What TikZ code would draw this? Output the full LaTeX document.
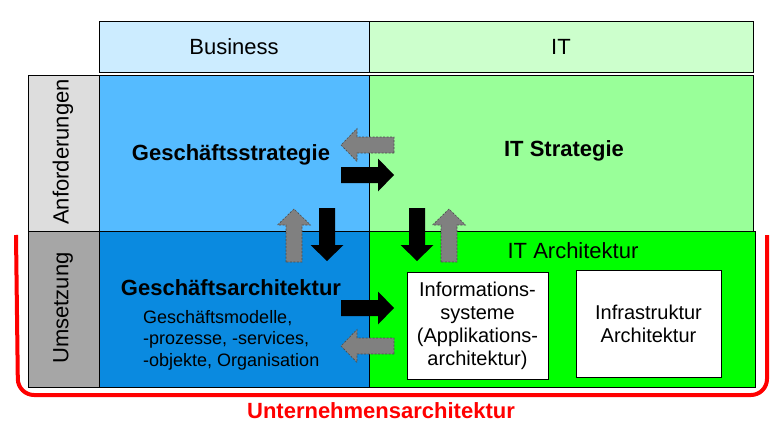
\documentclass[tikz,border=0pt]{standalone}
\usepackage{fontspec}
\setmainfont{Liberation Sans}

\definecolor{bizhead}{HTML}{CCECFF}
\definecolor{ithead}{HTML}{CCFFCC}
\definecolor{bizstrat}{HTML}{55BBFF}
\definecolor{bizarch}{HTML}{0A8AE0}
\definecolor{itstrat}{HTML}{99FF99}
\definecolor{itarch}{HTML}{00FF00}
\definecolor{reqgray}{HTML}{DDDDDD}
\definecolor{implgray}{HTML}{A6A6A6}
\definecolor{arrgray}{HTML}{808080}
\definecolor{bracketred}{HTML}{FF0000}

\newcommand{\cellfont}{\fontsize{22}{26}\selectfont}
\newcommand{\boxfont}{\fontsize{20}{23}\selectfont}
\newcommand{\notefont}{\fontsize{18}{21.5}\selectfont}
% block arrow: style, tail point, direction
\newcommand{\blockarrow}[3]{\path[#1,shift={(#2)},rotate=#3] (0,-8) -- (37,-8) -- (37,-16.5) -- (53,0) -- (37,16.5) -- (37,8) -- (0,8) -- cycle;}

\begin{document}
\begin{tikzpicture}[x=1pt,y=-1pt,
  cell/.style={draw=black,line width=1pt,inner sep=0pt,outer sep=0pt},
  whitebox/.style={cell,fill=white,align=center,font=\boxfont},
  fwd/.style={fill=black},
  back/.style={fill=arrgray,draw=black!70,line width=0.6pt,dash pattern=on 2pt off 1.5pt}]
\useasboundingbox (0,0) rectangle (782,431);

% enterprise bracket
\draw[bracketred,line width=4pt,rounded corners=16pt] (16,235) -- (18,395) -- (767,395) -- (767,235);
\node[text=bracketred,font=\cellfont\bfseries] (ua) at (381,411) {Unternehmensarchitektur};

% header
\node[cell,fill=bizhead,minimum width=270pt,minimum height=51pt,font=\cellfont] (business) at (234,46.5) {Business};
\node[cell,fill=ithead,minimum width=384pt,minimum height=51pt,font=\cellfont] (it) at (561,46.5) {IT};

% rows
\node[cell,fill=reqgray,minimum width=71pt,minimum height=156pt] (anf) at (63.5,153) {};
\node[cell,fill=implgray,minimum width=71pt,minimum height=156pt] (ums) at (63.5,309) {};
\node[rotate=90,font=\cellfont] (anftext) at (63,152) {Anforderungen};
\node[rotate=90,font=\cellfont] (umstext) at (63,308) {Umsetzung};

\node[cell,fill=bizstrat,minimum width=270pt,minimum height=156pt] (gstrat) at (234,153) {};
\node[cell,fill=itstrat,minimum width=384pt,minimum height=156pt] (itstr) at (561,153) {};
\node[cell,fill=bizarch,minimum width=270pt,minimum height=156pt] (garch) at (234,309) {};
\node[cell,fill=itarch,minimum width=386pt,minimum height=156pt] (itarc) at (562,309) {};

\node[font=\cellfont\bfseries] (gstrattext) at (231,155) {Geschäftsstrategie};
\node[font=\cellfont\bfseries] (itstrtext) at (564,151) {IT Strategie};
\node[font=\cellfont\bfseries] (garchtext) at (231,288) {Geschäftsarchitektur};
\node[font=\notefont,align=left,anchor=west,inner sep=0pt] (garchnote) at (143,340)
  {Geschäftsmodelle,\\-prozesse, -services,\\-objekte, Organisation};
\node[font=\cellfont] (itarctext) at (573,251) {IT Architektur};

\node[whitebox,minimum width=141pt,minimum height=107pt] (infosys) at (477.5,325.5)
  {Informations-\\systeme\\(Applikations-\\architektur)};
\node[whitebox,minimum width=145pt,minimum height=107pt] (infra) at (648.5,323.5)
  {Infrastruktur\\Architektur};

% arrows between the cells
\blockarrow{back}{394,145}{180}
\blockarrow{fwd}{341,175}{0}
\blockarrow{fwd}{327,208}{-90}
\blockarrow{back}{294,262}{90}
\blockarrow{fwd}{417,208}{-90}
\blockarrow{back}{449,262}{90}
\blockarrow{fwd}{341,308}{0}
\blockarrow{back}{394,346}{180}
\end{tikzpicture}
\end{document}
